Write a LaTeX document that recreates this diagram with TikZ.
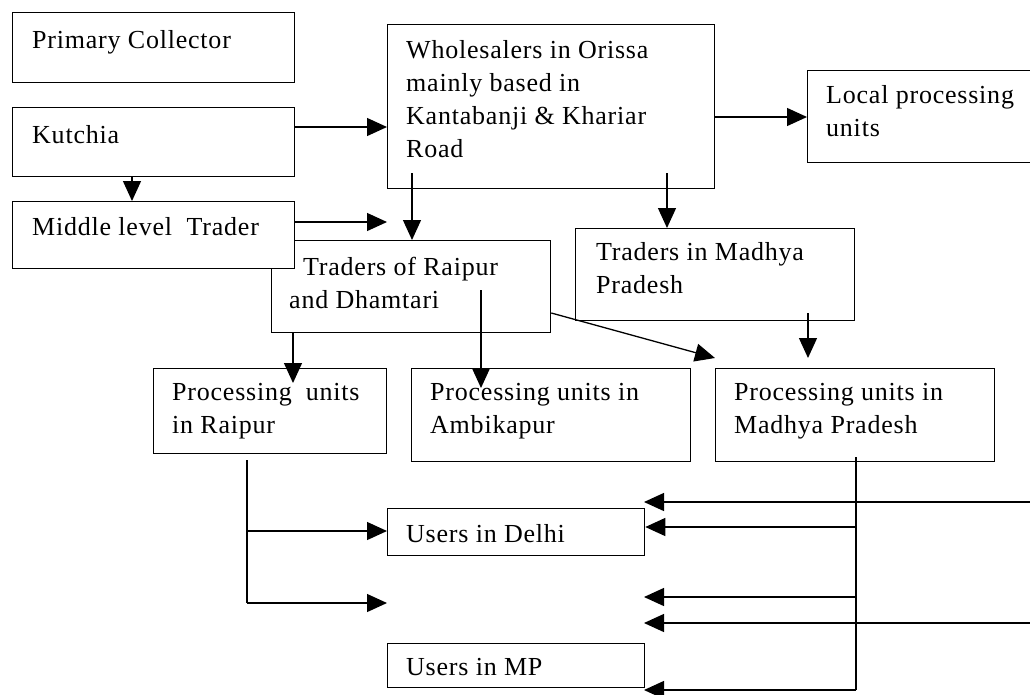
\documentclass[tikz,border=0pt]{standalone}
\usepackage{fontspec}
\setmainfont{Liberation Serif}[LetterSpace=3]
\usetikzlibrary{arrows.meta,calc}
\newcommand{\boxtext}[1]{\parbox[t]{330pt}{\raggedright #1}}
\begin{document}
\begin{tikzpicture}[x=1pt,y=-1pt,
  box/.style={draw, line width=1.3pt, fill=white, rectangle, anchor=north west, inner sep=0pt},
  txt/.style={anchor=base west, inner sep=0pt, font=\fontsize{26pt}{33pt}\selectfont},
  conn/.style={line width=1.3pt},
  arr/.style={line width=1.3pt, -{Triangle[length=20pt,width=18pt]}}]
\useasboundingbox (0,0) rectangle (1030,694);
% boxes
\node[box, minimum width=282pt, minimum height=70pt] (pc) at (12,12) {};
\node[box, minimum width=282pt, minimum height=69pt] (ku) at (12,107) {};
\node[box, minimum width=279pt, minimum height=92pt] (rt) at (271,240) {};
\node[box, minimum width=282pt, minimum height=67pt] (mt) at (12,201) {};
\node[box, minimum width=327pt, minimum height=164pt] (wh) at (387,24) {};
\node[box, minimum width=240pt, minimum height=92pt] (lp) at (807,70) {};
\node[box, minimum width=279pt, minimum height=92pt] (tm) at (575,228) {};
\node[box, minimum width=233pt, minimum height=85pt] (pr) at (153,368) {};
\node[box, minimum width=279pt, minimum height=93pt] (pa) at (411,368) {};
\node[box, minimum width=279pt, minimum height=93pt] (pm) at (715,368) {};
\node[box, minimum width=257pt, minimum height=47pt] (ud) at (387,508) {};
\node[box, minimum width=257pt, minimum height=44pt] (um) at (387,643) {};
% texts
\node[txt] (tpc) at (32,48) {\boxtext{Primary Collector}};
\node[txt] (tku) at (32,143) {\boxtext{Kutchia}};
\node[txt] (tmt) at (32,235) {\boxtext{Middle level\ \ Trader}};
\node[txt] (twh) at (406,58) {\boxtext{Wholesalers in Orissa\\mainly based in\\Kantabanji \& Khariar\\Road}};
\node[txt] (tlp) at (826,103) {\boxtext{Local processing\\units}};
\node[txt] (trt) at (289,275) {\boxtext{\hspace*{14pt}Traders of Raipur\\and Dhamtari}};
\node[txt] (ttm) at (596,260) {\boxtext{Traders in Madhya\\Pradesh}};
\node[txt] (tpr) at (172,400) {\boxtext{Processing\hspace{14pt}units\\in Raipur}};
\node[txt] (tpa) at (430,400) {\boxtext{Processing units in\\Ambikapur}};
\node[txt] (tpm) at (734,400) {\boxtext{Processing units in\\Madhya Pradesh}};
\node[txt] (tud) at (406,542) {\boxtext{Users in Delhi}};
\node[txt] (tum) at (406,675) {\boxtext{Users in MP}};
% free ends
\coordinate (f1) at (387,222);
\coordinate (f2) at (387,603);
\coordinate (f3) at (644,597);
\coordinate (f4) at (644,690);
\coordinate (r1) at (1045,502);
\coordinate (r2) at (1045,623);
\coordinate (e1) at (644,502);
\coordinate (e2) at (644,623);
% connectors
\draw[arr] (ku.east |- 0,127) -- (wh.west |- 0,127);
\draw[arr] (wh.east |- 0,117) -- (lp.west |- 0,117);
\draw[arr] (132,176 |- ku.south) -- (132,0 |- mt.north);
\draw[arr] (mt.east |- f1) -- (f1);
\draw[arr] (412,173) -- (412,0 |- rt.north);
\draw[arr] (667,173) -- (667,0 |- tm.north);
\draw[arr] (293,0 |- rt.south) -- (293,383);
\draw[arr] (481,290) -- (481,388);
\draw[arr] (rt.east |- 0,313) -- (715,358);
\draw[arr] (808,313) -- (808,358);
\draw[conn] (247,460) -- (247,603);
\draw[arr] (247,531) -- (ud.west |- 0,531);
\draw[arr] (247,603) -- (f2);
\draw[conn] (856,457) -- (856,690);
\draw[arr] (856,527) -- (ud.east |- 0,527);
\draw[arr] (856,597) -- (f3);
\draw[arr] (856,690) -- (f4);
\draw[arr] (r1) -- (e1);
\draw[arr] (r2) -- (e2);
\end{tikzpicture}
\end{document}
